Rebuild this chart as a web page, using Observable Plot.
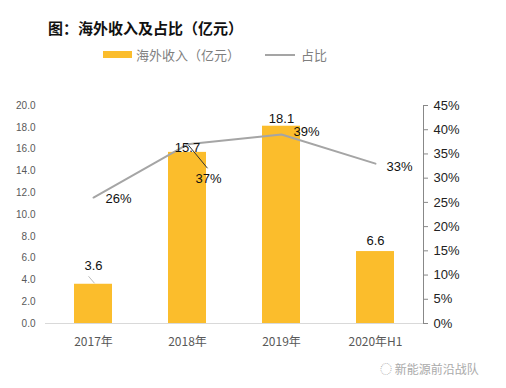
<!DOCTYPE html>
<html><head><meta charset="utf-8">
<script src="https://cdn.jsdelivr.net/npm/d3@7"></script>
<script src="https://cdn.jsdelivr.net/npm/@observablehq/plot@0.6"></script>
<style>
body{margin:0;background:#fff;width:506px;height:388px;overflow:hidden;position:relative;font-family:"Liberation Sans","Noto Sans CJK SC",sans-serif;}
#title{position:absolute;left:48px;top:17px;font-size:15px;font-weight:bold;color:#111;font-family:"Noto Sans CJK SC",sans-serif;}
#legend{position:absolute;left:103px;top:45px;font-size:13px;color:#7f7f7f;font-family:"Noto Sans CJK SC",sans-serif;display:flex;align-items:center;}
.sw{display:inline-block;width:29px;height:7px;background:#FBBD2C;margin-right:4px;}
.ln{display:inline-block;width:30px;height:2px;background:#A5A5A5;margin-right:6px;margin-left:25px;}
#wm{position:absolute;left:380px;top:360px;font-size:12px;color:#aaa;font-family:"Noto Sans CJK SC",sans-serif;}
#chart{position:absolute;left:0;top:80px;}
</style></head>
<body>
<div id="title">图：海外收入及占比（亿元）</div>
<div id="legend"><span class="sw"></span><span>海外收入（亿元）</span><span class="ln"></span><span>占比</span></div>
<div id="wm">◌ 新能源前沿战队</div>
<div id="chart"></div>
<script>
const categories = ["2017年", "2018年", "2019年", "2020年H1"];
const revenue = [3.6, 15.7, 18.1, 6.6];
const share = [26, 37, 39, 33];
const leftTicks = [0, 2, 4, 6, 8, 10, 12, 14, 16, 18, 20];
const rightTicks = [0, 5, 10, 15, 20, 25, 30, 35, 40, 45];

const maxL = 20, maxR = 45;
const toL = p => p / maxR * maxL;
const data = categories.map((c, i) => ({c, v: revenue[i], p: share[i], py: toL(share[i])}));

// label offsets (styling, in pixels)
const barDy = [-18, -5, -7, -11];
const pctDx = [25, 21, 25, 24];
const pctDy = [1, 35, -3, 3];

// leader line from a data point; group is already shifted to band centre by Plot
function leader(d, key, x0, y0, x1, y1, color) {
  return Plot.link([d], {x1: "c", x2: "c", y1: key, y2: key, stroke: color, strokeWidth: 1,
    render: (index, scales, values, dims, ctx, next) => {
      const g = next(index, scales, values, dims, ctx);
      const x = values.x1[index[0]];
      const y = values.y1[index[0]];
      d3.select(g).selectAll("path")
        .attr("d", `M${x + x0},${y + y0}L${x + x1},${y + y1}`);
      return g;
    }});
}

const plot = Plot.plot({
  width: 506, height: 308,
  marginLeft: 45, marginRight: 83, marginTop: 25, marginBottom: 65,
  style: {fontFamily: "Liberation Sans, Noto Sans CJK SC, sans-serif", background: "transparent"},
  x: {domain: categories, paddingInner: 0.6, paddingOuter: 0.3, label: null},
  y: {domain: [0, maxL], label: null},
  marks: [
    Plot.axisY(leftTicks, {anchor: "left", tickSize: 0, tickPadding: 10, tickFormat: d => d.toFixed(1), fontSize: 10, fill: "#595959", label: null}),
    Plot.axisY(rightTicks.map(toL), {anchor: "right", tickSize: 4, tickPadding: 6, tickFormat: d => Math.round(d / maxL * maxR) + "%", fontSize: 13, fill: "#222", stroke: "#888", label: null}),
    Plot.frame({anchor: "right", stroke: "#888"}),
    Plot.axisX({tickSize: 0, tickPadding: 14, fontSize: 12, fill: "#595959", fontFamily: "Noto Sans CJK SC", label: null}),
    Plot.barY(data, {x: "c", y: "v", fill: "#FBBD2C"}),
    Plot.ruleY([0], {stroke: "#d9d9d9"}),
    Plot.line(data, {x: "c", y: "py", stroke: "#A5A5A5", strokeWidth: 2}),
    ...data.map((d, i) => Plot.text([d], {x: "c", y: "v", text: d => d.v.toFixed(1), dy: barDy[i], fontSize: 13, fill: "#111"})),
    ...data.map((d, i) => Plot.text([d], {x: "c", y: "py", text: d => d.p + "%", dx: pctDx[i], dy: pctDy[i], fontSize: 13, fill: "#111"})),
    leader(data[1], "py", 1, 1, 20, 24, "#333"),
    leader(data[0], "v", -5, -8, 1, -1, "#bbb")
  ]
});
document.getElementById("chart").appendChild(plot);
</script>
</body></html>
